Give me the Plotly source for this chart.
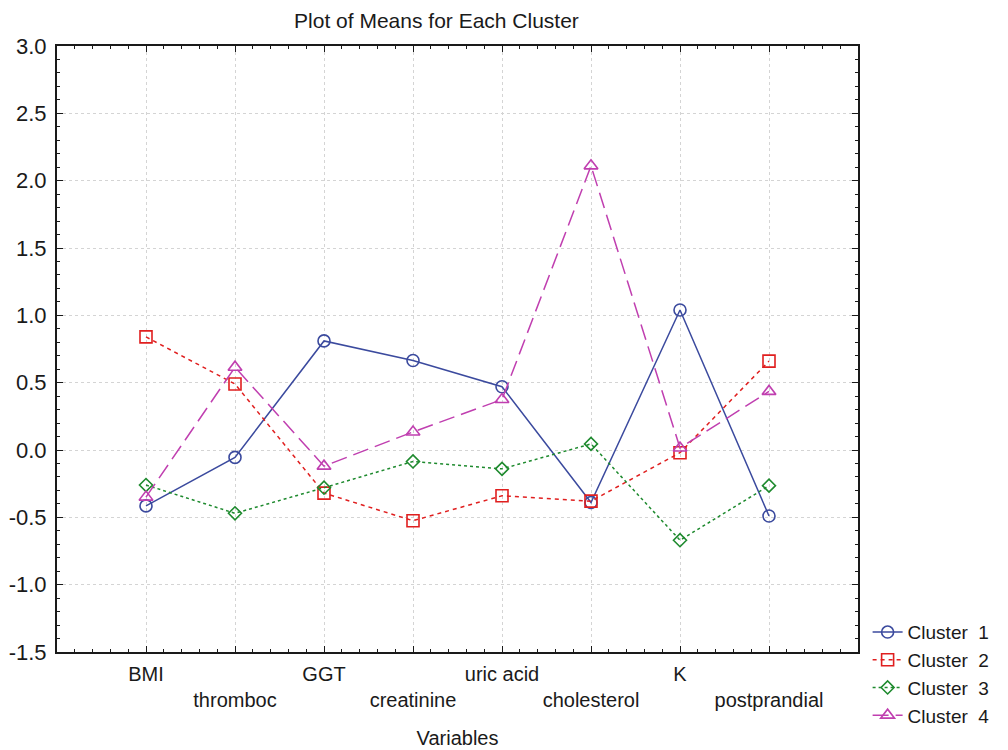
import plotly.graph_objects as go

variables = ["BMI", "thromboc", "GGT", "creatinine", "uric acid",
             "cholesterol", "K", "postprandial"]

cluster_1 = [-0.415, -0.055, 0.81, 0.665, 0.47, -0.39, 1.04, -0.49]
cluster_2 = [0.84, 0.49, -0.32, -0.525, -0.34, -0.38, -0.02, 0.66]
cluster_3 = [-0.26, -0.47, -0.28, -0.085, -0.14, 0.045, -0.67, -0.265]
cluster_4 = [-0.35, 0.615, -0.12, 0.134, 0.375, 2.11, 0.015, 0.435]

y_ticks = [-1.5, -1.0, -0.5, 0.0, 0.5, 1.0, 1.5, 2.0, 2.5, 3.0]

series = [
    ("Cluster  1", cluster_1, "#3b4a9e", "solid", "circle-open", 12),
    ("Cluster  2", cluster_2, "#e01f1f", "4px,4px", "square-open", 12),
    ("Cluster  3", cluster_3, "#1e8a2e", "dot", "diamond-open", 10),
    ("Cluster  4", cluster_4, "#c03fb0", "16px,7px", "triangle-up-open", 12),
]

x_pos = list(range(len(variables)))

fig = go.Figure()
for name, values, color, dash, symbol, size in series:
    fig.add_trace(go.Scatter(
        x=x_pos, y=values, name=name, mode="lines+markers",
        line=dict(color=color, width=1.5, dash=dash),
        marker=dict(symbol=symbol, size=size, color=color,
                    line=dict(width=1.6, color=color)),
    ))

# staggered category labels: odd entries drop to a second row
tick_text = [v if i % 2 == 0 else "<br>" + v for i, v in enumerate(variables)]

font = "Liberation Sans, Arial, sans-serif"
fig.update_layout(
    width=1008, height=750,
    margin=dict(l=57, r=150, t=46, b=98, autoexpand=False),
    paper_bgcolor="white", plot_bgcolor="white",
    font=dict(family=font, size=20, color="#1a1a1a"),
    title=dict(text="Plot of Means for Each Cluster", x=0.433, xanchor="center",
               y=0.973, yanchor="middle", font=dict(size=21)),
    legend=dict(x=1.012, xanchor="left", y=0.064, yanchor="top",
                font=dict(size=19), tracegroupgap=0, itemwidth=30,
                bgcolor="rgba(0,0,0,0)"),
    showlegend=True,
)
fig.update_xaxes(
    range=[-1, 8], tickmode="array", tickvals=x_pos, ticktext=tick_text,
    showgrid=True, gridcolor="#d4d4d4", griddash="dot", gridwidth=1,
    showline=True, linecolor="#1a1a1a", linewidth=2, mirror="ticks",
    ticks="inside", ticklen=6, tickcolor="#1a1a1a", zeroline=False,
    minor=dict(dtick=0.2, ticks="inside", ticklen=3, tickcolor="#1a1a1a",
               showgrid=False, tick0=0),
    title=dict(text="Variables", font=dict(size=20), standoff=21),
    tickfont=dict(size=20), ticklabelstandoff=3, automargin=False,
)
fig.update_yaxes(
    range=[-1.5, 3.0], tickmode="array", tickvals=y_ticks,
    ticktext=[f"{v:.1f}" for v in y_ticks],
    showgrid=True, gridcolor="#d4d4d4", griddash="dot", gridwidth=1,
    showline=True, linecolor="#1a1a1a", linewidth=2, mirror="ticks",
    ticks="inside", ticklen=6, tickcolor="#1a1a1a", zeroline=False,
    minor=dict(dtick=0.1, ticks="inside", ticklen=3, tickcolor="#1a1a1a",
               showgrid=False, tick0=0),
    tickfont=dict(size=22), ticklabelstandoff=4, automargin=False,
)

fig.write_html("out.html")
